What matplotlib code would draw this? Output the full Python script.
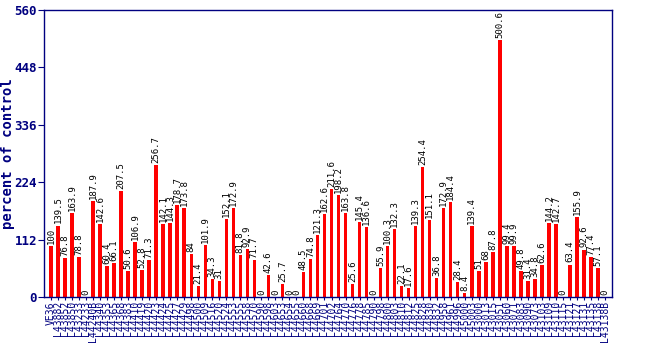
import matplotlib
matplotlib.use("Agg")
import matplotlib.pyplot as plt

labels = ["VE36", "L43882", "L43852", "L43850", "L43233", "L44233", "L44240B", "L44340",
          "L44353", "L44365", "L44368", "L44383", "L44410", "L44419", "L44420", "L44423",
          "L44424", "L44425", "L44427", "L44429", "L44498", "L44500", "L44509", "L44516",
          "L44520", "L44524", "L44553", "L44555", "L44558", "L44570", "L44590", "L44598",
          "L44603", "L44653", "L44654", "L44655", "L44660", "L44668", "L44669", "L44701",
          "L44702", "L44764", "L44770", "L44776", "L44778", "L44785", "L44790", "L44798",
          "L44800", "L44803", "L44810", "L44812", "L44825", "L44828", "L44830", "L44832",
          "L44958", "L44961", "L44996", "L45000", "L45003", "L43000", "L43013", "L43015",
          "L43051", "L43060", "L43071", "L43083", "L43090", "L43073", "L43103", "L43109",
          "L43110", "L43115", "L43121", "L43127", "L43131", "L43135", "L43138", "L43138B"]

values = [100, 139.5, 76.8, 163.9, 78.8, 0, 187.9, 142.6, 60.4, 66.1,
          207.5, 50.6, 106.9, 52.8, 71.3, 256.7, 142.1, 144.3, 178.7, 173.8,
          84, 21.4, 101.9, 34.3, 31, 152.1, 172.9, 81.8, 92.9, 71.7,
          0, 42.6, 0, 25.7, 0, 0, 48.5, 74.8, 121.3, 162.6,
          211.6, 198.2, 163.8, 25.6, 145.4, 136.6, 0, 55.9, 100.3, 132.3,
          22.1, 17.6, 139.3, 254.4, 151.1, 36.8, 172.9, 184.4, 28.4, 8.4,
          139.4, 51, 68, 87.8, 500.6, 99.4, 99.9, 49.8, 31.4, 34.8,
          62.6, 144.2, 142.7, 0, 63.4, 155.9, 92.6, 77.4, 57.1, 0]

yticks = [0, 112, 224, 336, 448, 560]

navy = "#000080"
fig = plt.figure(figsize=(6.5, 3.5), dpi=100)
ax = fig.add_axes([44/650, 1-297/350, (612-44)/650, (297-10)/350])
x = list(range(len(values)))
ax.bar(x, values, width=0.5, color="#ff0000")
for xi, v in zip(x, values):
    ax.text(xi, v + 4, f"{v:g}", rotation=90, ha="center", va="bottom",
            fontsize=6.5, family="DejaVu Sans Mono", color="black")
ax.set_xlim(-1, 80)
ax.set_ylim(0, 560)
ax.set_yticks(yticks)
ax.set_yticklabels([str(t) for t in yticks], family="DejaVu Sans Mono",
                   fontweight="bold", fontsize=9, color=navy)
ax.set_xticks(x)
ax.set_xticklabels(labels, rotation=90, family="DejaVu Sans Mono", fontsize=7, color=navy)
ax.tick_params(axis="x", length=2, pad=1, color=navy)
ax.tick_params(axis="y", length=4, pad=1, color=navy)
for s in ax.spines.values():
    s.set_color(navy)
    s.set_linewidth(1)
ax.set_ylabel("percent of control", family="DejaVu Sans Mono", fontweight="bold",
              fontsize=10, color=navy)
ax.yaxis.set_label_coords(-29/568, 0.5)
fig.savefig("out.png", dpi=100)
